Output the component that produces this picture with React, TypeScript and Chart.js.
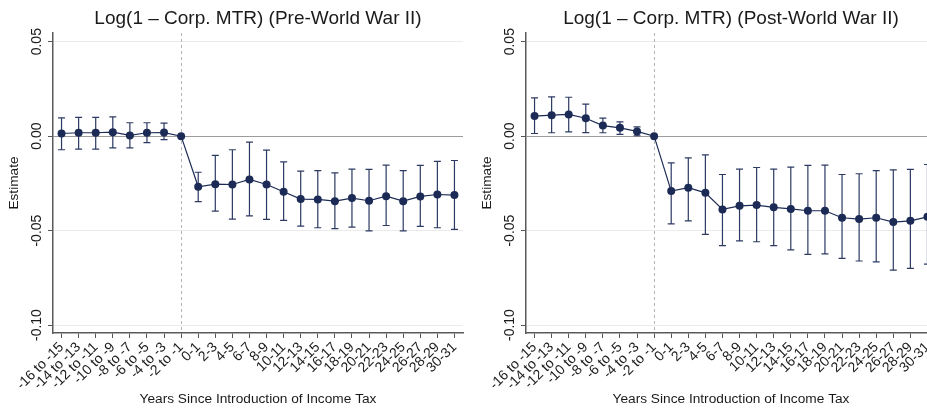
import { useEffect, useRef } from 'react'
import { Chart, registerables } from 'chart.js'

Chart.register(...registerables)

const categories = [
  '-16 to -15', '-14 to -13', '-12 to -11', '-10 to -9', '-8 to -7', '-6 to -5', '-4 to -3', '-2 to -1',
  '0-1', '2-3', '4-5', '6-7', '8-9', '10-11', '12-13', '14-15', '16-17', '18-19', '20-21', '22-23',
  '24-25', '26-27', '28-29', '30-31',
]
const referenceCategory = '-2 to -1'
const yTickValues = [-0.1, -0.05, 0, 0.05]

const preEstimate = [
  0.0014, 0.0018, 0.0018, 0.0021, 0.0004, 0.0018, 0.0019, 0,
  -0.0268, -0.0254, -0.0256, -0.0229, -0.0256, -0.0294, -0.0333, -0.0335, -0.0344, -0.0328, -0.0342, -0.0318,
  -0.0344, -0.0319, -0.0309, -0.0312,
]
const preUpper = [
  0.0097, 0.0099, 0.0099, 0.0102, 0.0071, 0.0071, 0.0069, null,
  -0.0191, -0.0102, -0.0072, -0.0032, -0.0074, -0.0136, -0.0185, -0.0183, -0.0194, -0.0175, -0.0176, -0.0153,
  -0.0182, -0.0155, -0.0134, -0.0129,
]
const preLower = [
  -0.0072, -0.0069, -0.0069, -0.0062, -0.0062, -0.0034, -0.0018, null,
  -0.0347, -0.0397, -0.0439, -0.0422, -0.0441, -0.0446, -0.0476, -0.0485, -0.049, -0.0482, -0.0501, -0.0473,
  -0.0501, -0.0478, -0.0485, -0.0494,
]

const postEstimate = [
  0.0106, 0.0111, 0.0115, 0.0095, 0.0056, 0.0044, 0.0025, 0,
  -0.0291, -0.0273, -0.03, -0.0388, -0.0369, -0.0365, -0.0377, -0.0385, -0.0395, -0.0395, -0.0432, -0.0439,
  -0.0432, -0.0455, -0.0448, -0.0427,
]
const postUpper = [
  0.0203, 0.0208, 0.0206, 0.0169, 0.0095, 0.0076, 0.0049, null,
  -0.0141, -0.0115, -0.0099, -0.0203, -0.0175, -0.0166, -0.0175, -0.0164, -0.0155, -0.0153, -0.0203, -0.0199,
  -0.0182, -0.0178, -0.0176, -0.015,
]
const postLower = [
  0.0014, 0.0018, 0.0023, 0.0019, 0.0018, 0.0009, 0.0002, null,
  -0.0464, -0.0448, -0.052, -0.0579, -0.0554, -0.0559, -0.0579, -0.0602, -0.0626, -0.0623, -0.0647, -0.0661,
  -0.0665, -0.0709, -0.07, -0.0677,
]

const NAVY = '#1c2b55'
const FONT = "'Liberation Sans', Arial, Helvetica, sans-serif"

interface PanelProps {
  title: string
  estimate: number[]
  upper: (number | null)[]
  lower: (number | null)[]
  left: number
}

function EventStudyPanel(props: PanelProps) {
  const { title, estimate, upper, lower, left } = props
  const canvasRef = useRef<HTMLCanvasElement | null>(null)

  useEffect(() => {
    if (!canvasRef.current) return
    const ctx = canvasRef.current.getContext('2d')
    if (!ctx) return

    // dashed line at the omitted period + confidence intervals
    const extras = {
      id: 'extras',
      beforeDatasetsDraw(chart: any) {
        const { ctx, chartArea, scales } = chart
        const x = scales.x
        const y = scales.y
        ctx.save()
        const rx = Math.round(x.getPixelForValue(categories.indexOf(referenceCategory))) + 0.5
        ctx.strokeStyle = '#b4b4b4'
        ctx.lineWidth = 1
        ctx.setLineDash([3, 3])
        ctx.beginPath()
        ctx.moveTo(rx, chartArea.top)
        ctx.lineTo(rx, chartArea.bottom)
        ctx.stroke()
        ctx.setLineDash([])

        ctx.strokeStyle = '#2c3a63'
        ctx.lineWidth = 1.2
        for (let i = 0; i < categories.length; i++) {
          const hi = upper[i]
          const lo = lower[i]
          if (hi === null || lo === null) continue
          const px = x.getPixelForValue(i)
          const top = y.getPixelForValue(hi)
          const bot = y.getPixelForValue(lo)
          ctx.beginPath()
          ctx.moveTo(px, top)
          ctx.lineTo(px, bot)
          ctx.moveTo(px - 3.5, top)
          ctx.lineTo(px + 3.5, top)
          ctx.moveTo(px - 3.5, bot)
          ctx.lineTo(px + 3.5, bot)
          ctx.stroke()
        }
        ctx.restore()
      },
    }

    const chart = new Chart(ctx, {
      type: 'line',
      data: {
        labels: categories,
        datasets: [{
          data: estimate,
          borderColor: NAVY,
          borderWidth: 1.2,
          backgroundColor: NAVY,
          pointBackgroundColor: NAVY,
          pointBorderWidth: 0,
          pointRadius: 4,
          tension: 0,
        }],
      },
      options: {
        responsive: false,
        animation: false,
        layout: { padding: { left: 0, right: 7, top: 0, bottom: 0 } },
        plugins: {
          legend: { display: false },
          tooltip: { enabled: false },
          title: {
            display: true,
            text: title,
            fullSize: false,
            color: '#1a1a1a',
            font: { family: FONT, size: 19, weight: 'normal' },
            padding: { top: 7, bottom: 3.2 },
          },
        },
        scales: {
          x: {
            type: 'category',
            offset: true,
            grid: { drawOnChartArea: false, drawTicks: true, tickLength: 5, tickColor: '#555', tickWidth: 1 },
            border: { color: '#5a5a5a', width: 1.5 },
            ticks: {
              autoSkip: false,
              minRotation: 45,
              maxRotation: 45,
              padding: 1,
              color: '#1a1a1a',
              font: { family: FONT, size: 14 },
            },
            title: {
              display: true,
              text: 'Years Since Introduction of Income Tax',
              color: '#1a1a1a',
              font: { family: FONT, size: 13.7 },
              padding: { top: 0, bottom: 1.8 },
            },
            afterFit(scale: any) {
              scale.height = 76
            },
          },
          y: {
            min: -0.1042,
            max: 0.0546,
            grid: {
              color: (c: any) => (c.tick && c.tick.value === 0 ? '#9c9c9c' : '#ebebeb'),
              lineWidth: 1,
              drawTicks: true,
              tickLength: 5,
              tickColor: '#555',
              tickWidth: 1,
            },
            border: { color: '#5a5a5a', width: 1.5 },
            ticks: {
              minRotation: 90,
              maxRotation: 90,
              crossAlign: 'center',
              padding: -5.5,
              color: '#1a1a1a',
              font: { family: FONT, size: 14 },
              callback: (v: any) => Number(v).toFixed(2),
            },
            afterBuildTicks(scale: any) {
              scale.ticks = yTickValues.map(v => ({ value: v }))
            },
            title: {
              display: true,
              text: 'Estimate',
              color: '#1a1a1a',
              font: { family: FONT, size: 13.7 },
              padding: { top: 5.8, bottom: 0 },
            },
            afterFit(scale: any) {
              scale.width = 53
            },
          },
        },
      },
      plugins: [extras],
    } as any)

    return () => {
      chart.destroy()
    }
  }, [title, estimate, upper, lower])

  return (
    <div style={{ position: 'absolute', left, top: 0, width: 470, height: 409 }}>
      <canvas ref={canvasRef} width={470} height={409} style={{ width: 470, height: 409 }} />
    </div>
  )
}

export default function App() {
  return (
    <div style={{ position: 'absolute', left: 0, top: 0, width: 927, height: 409, overflow: 'hidden', background: '#fff' }}>
      <EventStudyPanel
        title="Log(1 – Corp. MTR) (Pre-World War II)"
        estimate={preEstimate}
        upper={preUpper}
        lower={preLower}
        left={0}
      />
      <EventStudyPanel
        title="Log(1 – Corp. MTR) (Post-World War II)"
        estimate={postEstimate}
        upper={postUpper}
        lower={postLower}
        left={473}
      />
    </div>
  )
}
